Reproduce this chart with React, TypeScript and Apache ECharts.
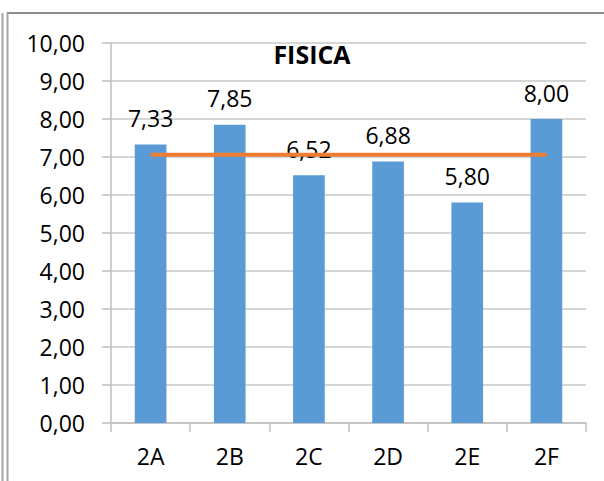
import React, { useEffect, useRef } from "react";
import * as echarts from "echarts";

const categories = ["2A", "2B", "2C", "2D", "2E", "2F"];
const grades = [7.33, 7.85, 6.52, 6.88, 5.8, 8.0];
const average = [7.06, 7.06, 7.06, 7.06, 7.06, 7.06];
const title = "FISICA";

const FONT = "'Open Sans', 'Liberation Sans', sans-serif";

export default function App() {
  const ref = useRef<HTMLDivElement>(null);
  useEffect(() => {
    document.body.style.margin = "0";
    const chart = echarts.init(ref.current!, null, { renderer: "svg" });
    const fmt = (v: number) => v.toFixed(2).replace(".", ",");
    chart.setOption({
      animation: false,
      backgroundColor: "#ffffff",
      textStyle: { fontFamily: FONT },
      graphic: [
        { type: "line", shape: { x1: 7, y1: 13, x2: 604, y2: 13 }, style: { stroke: "#8c8c8c", lineWidth: 2 } },
        { type: "line", shape: { x1: 2.5, y1: 13, x2: 2.5, y2: 481 }, style: { stroke: "#a6a6a6", lineWidth: 2 } },
        { type: "line", shape: { x1: 7.5, y1: 13, x2: 7.5, y2: 481 }, style: { stroke: "#a6a6a6", lineWidth: 2 } },
        {
          type: "text",
          x: 312,
          y: 54,
          style: {
            text: title,
            font: `bold 25px ${FONT}`,
            fill: "#000000",
            textAlign: "center",
            textVerticalAlign: "middle",
          },
        },
      ],
      grid: { left: 111, right: 18, top: 43, bottom: 58, containLabel: false },
      xAxis: {
        type: "category",
        data: categories,
        boundaryGap: true,
        axisLine: { show: true, lineStyle: { color: "#bfbfbf", width: 1.5 } },
        axisTick: { show: true, length: 9, alignWithLabel: false, lineStyle: { color: "#bfbfbf", width: 1.5 } },
        axisLabel: { color: "#000000", fontSize: 23, fontFamily: FONT, margin: 21 },
      },
      yAxis: {
        type: "value",
        min: 0,
        max: 10,
        interval: 1,
        axisLine: { show: true, lineStyle: { color: "#bfbfbf", width: 1.5 } },
        axisTick: { show: true, length: 9, lineStyle: { color: "#bfbfbf", width: 1.5 } },
        splitLine: { show: true, lineStyle: { color: "#c8c8c8", width: 1.5 } },
        axisLabel: { color: "#000000", fontSize: 23, fontFamily: FONT, margin: 26, formatter: fmt },
      },
      series: [
        {
          type: "bar",
          data: grades,
          barWidth: "40%",
          itemStyle: { color: "#5b9bd5" },
          label: {
            show: true,
            position: "top",
            distance: 15,
            color: "#000000",
            fontSize: 23,
            fontFamily: FONT,
            formatter: (p: any) => fmt(p.value),
          },
          z: 2,
        },
        {
          type: "line",
          data: average,
          symbol: "none",
          lineStyle: { color: "#ed7d31", width: 4 },
          z: 3,
        },
      ],
    });
    return () => chart.dispose();
  }, []);
  return <div ref={ref} style={{ position: "absolute", left: 0, top: 0, width: 604, height: 481 }} />;
}
